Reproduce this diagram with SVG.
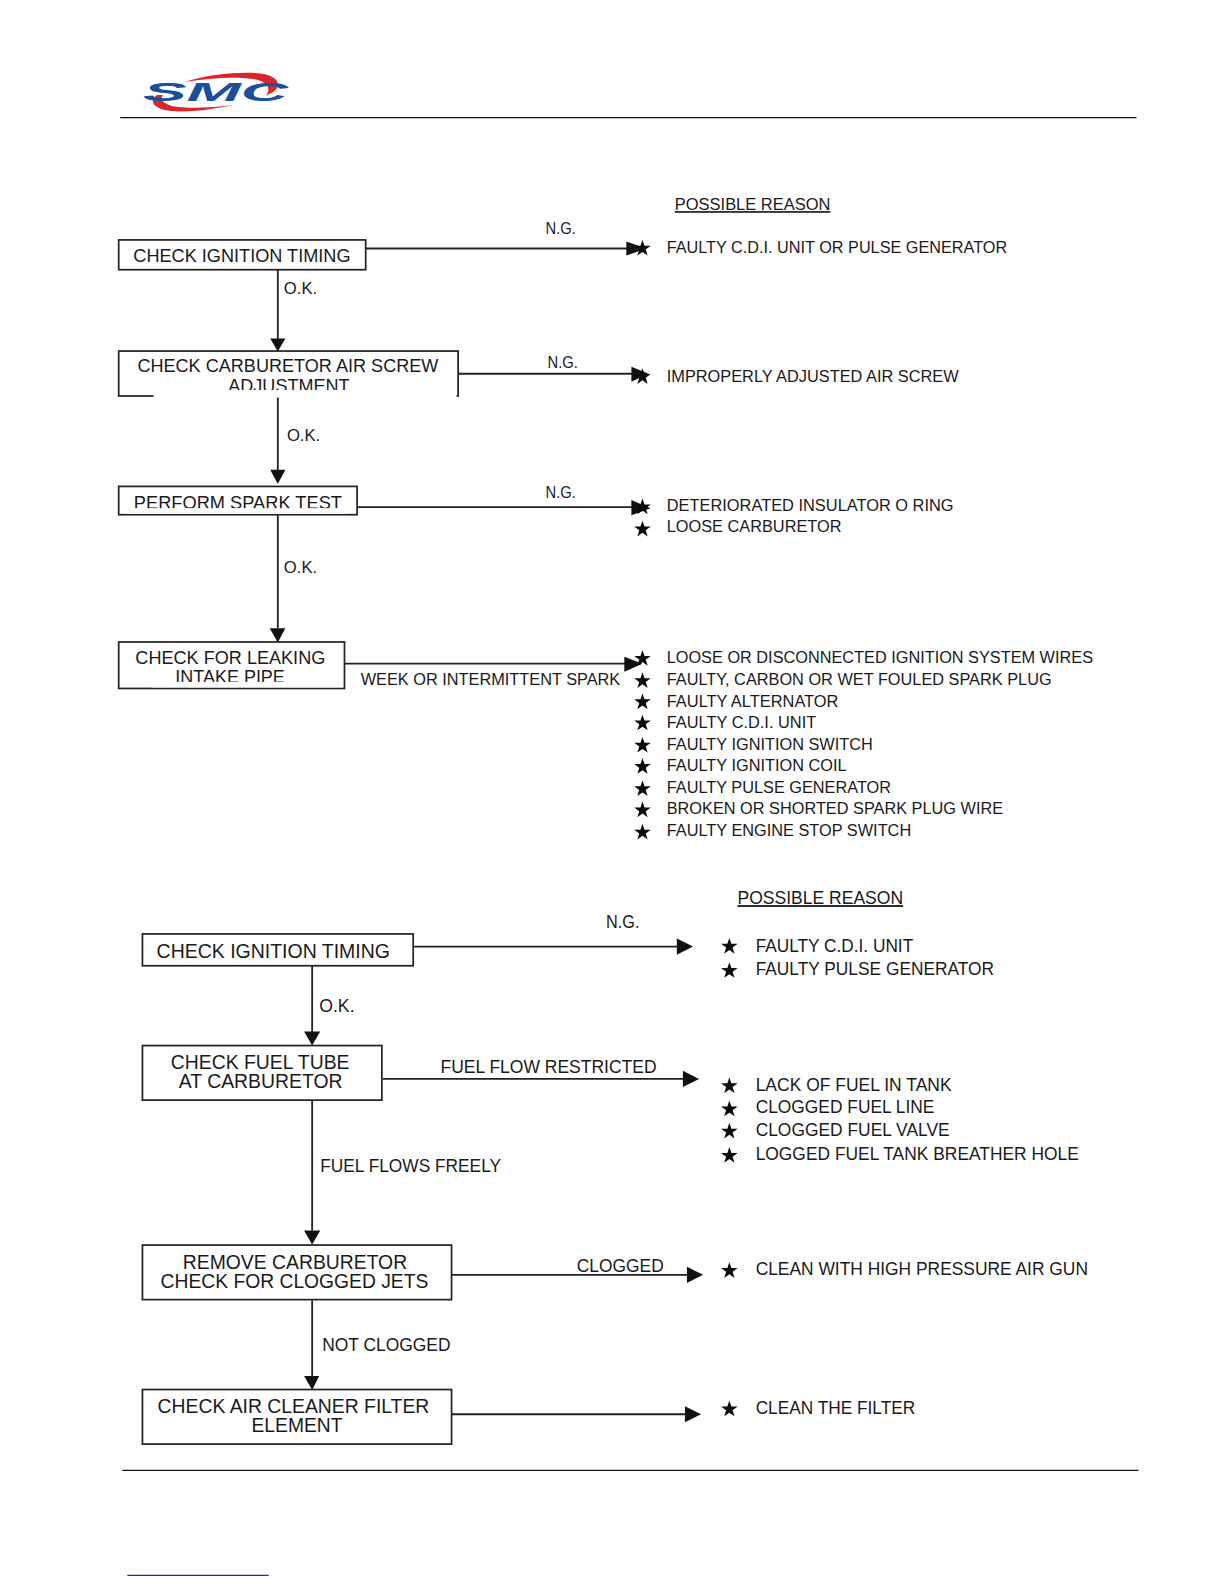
<svg xmlns="http://www.w3.org/2000/svg" width="1224" height="1584" viewBox="0 0 1224 1584">
<style>
text{font-family:"Liberation Sans",Arial,sans-serif;fill:#1a1a1a;font-size:16.5px}
.b{font-size:18px}
.c{font-size:20px}
.box{fill:#fff;stroke:#222;stroke-width:1.7}
.rule{stroke:#111;stroke-width:1.3;fill:none}
.ln{stroke:#222;stroke-width:1.8;fill:none}
.hd{fill:#111}
.star{fill:#0a0a0a}
</style>
<defs>
<polygon id="s" points="0,-8.5 2,-2.7 8.2,-2.7 3.2,1 5.1,7 0,3.4 -5.1,7 -3.2,1 -8.2,-2.7 -2,-2.7"/>
</defs>
<rect width="1224" height="1584" fill="#fff"/>
<g id="logo">
<path d="M185 82C205 75 235 72 255 73C272 74 281 80 277 88C275 92 270 93 266 96C270 90 270 84 258 80C240 76 210 78 185 82Z" fill="#d8262c"/>
<path d="M157 95C150 100 152 107 165 110C185 114 215 109 233 105C212 108 185 109 172 106C162 103 160 99 163 95Z" fill="#d8262c"/>
<text x="143" y="101" textLength="145" lengthAdjust="spacingAndGlyphs" style="font-size:25px;font-weight:bold;font-style:italic;fill:#1a4f9c">SMC</text>
</g>
<g id="page" transform="scale(1.0102)">
<g id="header"><line class="rule" x1="119" y1="116.5" x2="1125" y2="116.5"/></g>
<g id="connectors">
<path class="ln" d="M362 246H622M454 370H626M354 502H626M341 657H620M275 267V336M275 392V466M275 510V622M409 937H672M379 1068H678M447 1262H682M447 1400H680M309 956V1022M309 1089V1218M309 1287V1362"/>
<g class="hd">
<path d="M620 239L640 246L620 253Z"/><path d="M625 363L642 370L625 378Z"/><path d="M625 495L644 503L625 510Z"/><path d="M618 650L636 657L618 665Z"/>
<path d="M267.500 335L282.500 335L275 348Z"/><path d="M267.500 465L282.500 465L275 479Z"/><path d="M267 622L282.500 622L275 636Z"/>
<path d="M670 929L686 937L670 945Z"/><path d="M676 1060L692 1068L676 1076Z"/><path d="M680 1254L696 1262L680 1270Z"/><path d="M678 1392L694 1400L678 1408Z"/>
<path d="M301 1021L317 1021L309 1035Z"/><path d="M301 1218L317 1218L309 1232Z"/><path d="M301 1362L316 1362L309 1376Z"/>
</g>
<text x="540" y="232" textLength="30" lengthAdjust="spacingAndGlyphs">N.G.</text>
<text x="281" y="291">O.K.</text>
<text x="542" y="364" textLength="30" lengthAdjust="spacingAndGlyphs">N.G.</text>
<text x="284" y="437">O.K.</text>
<text x="540" y="493" textLength="30" lengthAdjust="spacingAndGlyphs">N.G.</text>
<text x="281" y="567">O.K.</text>
<text x="357" y="678" textLength="257" lengthAdjust="spacingAndGlyphs">WEEK OR INTERMITTENT SPARK</text>
<text class="b" x="600" y="919" textLength="33" lengthAdjust="spacingAndGlyphs">N.G.</text>
<text class="b" x="316" y="1002" textLength="35" lengthAdjust="spacingAndGlyphs">O.K.</text>
<text class="b" x="436" y="1062" textLength="214" lengthAdjust="spacingAndGlyphs">FUEL FLOW RESTRICTED</text>
<text class="b" x="317" y="1160" textLength="179" lengthAdjust="spacingAndGlyphs">FUEL FLOWS FREELY</text>
<text class="b" x="571" y="1259" textLength="86" lengthAdjust="spacingAndGlyphs">CLOGGED</text>
<text class="b" x="319" y="1337" textLength="127" lengthAdjust="spacingAndGlyphs">NOT CLOGGED</text>
</g>
<g id="n1"><rect class="box" x="117.5" y="237.5" width="244.5" height="29.5"/><text class="b" x="132" y="259" textLength="215" lengthAdjust="spacingAndGlyphs">CHECK IGNITION TIMING</text></g>
<g id="n2"><rect class="box" x="117.500" y="347.500" width="336" height="44.500"/><text class="b" x="136" y="368.500" textLength="298" lengthAdjust="spacingAndGlyphs">CHECK CARBURETOR AIR SCREW</text><text class="b" x="226" y="388.500" textLength="120" lengthAdjust="spacingAndGlyphs">ADJUSTMENT</text><rect x="152" y="386" width="300" height="7.500" fill="#fff"/></g>
<g id="n3"><rect class="box" x="117.500" y="481.500" width="236" height="28"/><text class="b" x="132.500" y="504" textLength="206" lengthAdjust="spacingAndGlyphs">PERFORM SPARK TEST</text><rect x="125" y="503" width="220" height="5.500" fill="#fff"/></g>
<g id="n4"><rect class="box" x="117.500" y="635.500" width="223.500" height="46"/><text class="b" x="134" y="657" textLength="188" lengthAdjust="spacingAndGlyphs">CHECK FOR LEAKING</text><text class="b" x="173.500" y="676" textLength="108.500" lengthAdjust="spacingAndGlyphs">INTAKE PIPE</text><rect x="150" y="675" width="189" height="5.500" fill="#fff"/></g>
<g id="n5"><rect class="box" x="141" y="924.5" width="268" height="31.5"/><text class="c" x="155" y="948" textLength="231" lengthAdjust="spacingAndGlyphs">CHECK IGNITION TIMING</text></g>
<g id="n6"><rect class="box" x="141" y="1035" width="237" height="54"/><text class="c" x="169" y="1058" textLength="177" lengthAdjust="spacingAndGlyphs">CHECK FUEL TUBE</text><text class="c" x="177" y="1077" textLength="162" lengthAdjust="spacingAndGlyphs">AT CARBURETOR</text></g>
<g id="n7"><rect class="box" x="141" y="1232.5" width="306" height="54"/><text class="c" x="181" y="1256" textLength="222" lengthAdjust="spacingAndGlyphs">REMOVE CARBURETOR</text><text class="c" x="159" y="1275" textLength="265" lengthAdjust="spacingAndGlyphs">CHECK FOR CLOGGED JETS</text></g>
<g id="n8"><rect class="box" x="141" y="1375.5" width="306" height="54"/><text class="c" x="156" y="1399" textLength="269" lengthAdjust="spacingAndGlyphs">CHECK AIR CLEANER FILTER</text><text class="c" x="249" y="1418" textLength="90" lengthAdjust="spacingAndGlyphs">ELEMENT</text></g>
<g id="reasons-top">
<text x="668" y="208" textLength="154" lengthAdjust="spacingAndGlyphs" text-decoration="underline">POSSIBLE REASON</text>
<text x="660" y="250" textLength="337" lengthAdjust="spacingAndGlyphs">FAULTY C.D.I. UNIT OR PULSE GENERATOR</text>
<text x="660" y="378" textLength="289" lengthAdjust="spacingAndGlyphs">IMPROPERLY ADJUSTED AIR SCREW</text>
<text x="660" y="506" textLength="284" lengthAdjust="spacingAndGlyphs">DETERIORATED INSULATOR O RING</text>
<text x="660" y="527" textLength="173" lengthAdjust="spacingAndGlyphs">LOOSE CARBURETOR</text>
<text x="660" y="656" textLength="422" lengthAdjust="spacingAndGlyphs">LOOSE OR DISCONNECTED IGNITION SYSTEM WIRES</text>
<text x="660" y="678" textLength="381" lengthAdjust="spacingAndGlyphs">FAULTY, CARBON OR WET FOULED SPARK PLUG</text>
<text x="660" y="700" textLength="170" lengthAdjust="spacingAndGlyphs">FAULTY ALTERNATOR</text>
<text x="660" y="721" textLength="148" lengthAdjust="spacingAndGlyphs">FAULTY C.D.I. UNIT</text>
<text x="660" y="742" textLength="204" lengthAdjust="spacingAndGlyphs">FAULTY IGNITION SWITCH</text>
<text x="660" y="763" textLength="178" lengthAdjust="spacingAndGlyphs">FAULTY IGNITION COIL</text>
<text x="660" y="785" textLength="222" lengthAdjust="spacingAndGlyphs">FAULTY PULSE GENERATOR</text>
<text x="660" y="806" textLength="333" lengthAdjust="spacingAndGlyphs">BROKEN OR SHORTED SPARK PLUG WIRE</text>
<text x="660" y="828" textLength="242" lengthAdjust="spacingAndGlyphs">FAULTY ENGINE STOP SWITCH</text>
<g class="star">
<use href="#s" x="636" y="246"/><use href="#s" x="636" y="373"/><use href="#s" x="636" y="502"/><use href="#s" x="636" y="524"/><use href="#s" x="636" y="652"/><use href="#s" x="636" y="674"/><use href="#s" x="636" y="695"/><use href="#s" x="636" y="716"/><use href="#s" x="636" y="738"/><use href="#s" x="636" y="759"/><use href="#s" x="636" y="781"/><use href="#s" x="636" y="802"/><use href="#s" x="636" y="824"/>
</g>
</g>
<g id="reasons-bottom">
<text class="b" x="730" y="895" textLength="164" lengthAdjust="spacingAndGlyphs" text-decoration="underline">POSSIBLE REASON</text>
<text class="b" x="748" y="942" textLength="156" lengthAdjust="spacingAndGlyphs">FAULTY C.D.I. UNIT</text>
<text class="b" x="748" y="965" textLength="236" lengthAdjust="spacingAndGlyphs">FAULTY PULSE GENERATOR</text>
<text class="b" x="748" y="1080" textLength="194" lengthAdjust="spacingAndGlyphs">LACK OF FUEL IN TANK</text>
<text class="b" x="748" y="1102" textLength="177" lengthAdjust="spacingAndGlyphs">CLOGGED FUEL LINE</text>
<text class="b" x="748" y="1125" textLength="192" lengthAdjust="spacingAndGlyphs">CLOGGED FUEL VALVE</text>
<text class="b" x="748" y="1148" textLength="320" lengthAdjust="spacingAndGlyphs">LOGGED FUEL TANK BREATHER HOLE</text>
<text class="b" x="748" y="1262" textLength="329" lengthAdjust="spacingAndGlyphs">CLEAN WITH HIGH PRESSURE AIR GUN</text>
<text class="b" x="748" y="1400" textLength="158" lengthAdjust="spacingAndGlyphs">CLEAN THE FILTER</text>
<g class="star">
<use href="#s" x="722" y="937"/><use href="#s" x="722" y="961"/><use href="#s" x="722" y="1075"/><use href="#s" x="722" y="1098"/><use href="#s" x="722" y="1120"/><use href="#s" x="722" y="1144"/><use href="#s" x="722" y="1258"/><use href="#s" x="722" y="1395"/>
</g>
</g>
<g id="footer">
<line class="rule" x1="121" y1="1455.5" x2="1127" y2="1455.5"/>
<line x1="126" y1="1559.5" x2="266" y2="1559.5" stroke="#2222cc" stroke-width="1.2"/>
</g>
</g>
</svg>
